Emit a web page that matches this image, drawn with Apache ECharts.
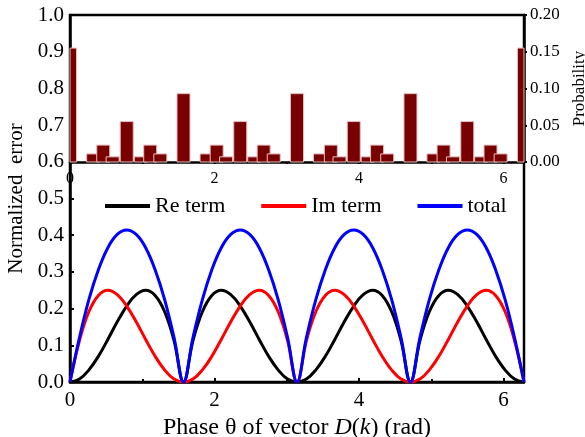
<!DOCTYPE html>
<html lang="en">
<head>
    <meta charset="UTF-8">
    <title>normalized error</title>
    <script src="https://cdn.jsdelivr.net/npm/echarts@6/dist/echarts.min.js"></script>
    <style>
        body { margin: 0; background: #fff; }
        #chart { width: 585px; height: 437px; }
    </style>
</head>
<body>
<div id="chart"></div>
<script>
    // phase samples (rad)
    let theta = [0, 0.131, 0.262, 0.393, 0.524, 0.654, 0.785, 0.916, 1.047, 1.178, 1.309, 1.440, 1.571,
        1.702, 1.833, 1.963, 2.094, 2.225, 2.356, 2.487, 2.618, 2.749, 2.880, 3.011, 3.142,
        3.272, 3.403, 3.534, 3.665, 3.796, 3.927, 4.058, 4.189, 4.320, 4.451, 4.581, 4.712,
        4.843, 4.974, 5.105, 5.236, 5.367, 5.498, 5.629, 5.760, 5.890, 6.021, 6.152, 6.283];

    let reTerm = [0, 0.008, 0.033, 0.070, 0.116, 0.164, 0.207, 0.238, 0.250, 0.236, 0.192, 0.113, 0,
        0.113, 0.192, 0.236, 0.250, 0.238, 0.207, 0.164, 0.116, 0.070, 0.033, 0.008, 0,
        0.008, 0.033, 0.070, 0.116, 0.164, 0.207, 0.238, 0.250, 0.236, 0.192, 0.113, 0,
        0.113, 0.192, 0.236, 0.250, 0.238, 0.207, 0.164, 0.116, 0.070, 0.033, 0.008, 0];

    let imTerm = [0, 0.113, 0.192, 0.236, 0.250, 0.238, 0.207, 0.164, 0.116, 0.070, 0.033, 0.008, 0,
        0.008, 0.033, 0.070, 0.116, 0.164, 0.207, 0.238, 0.250, 0.236, 0.192, 0.113, 0,
        0.113, 0.192, 0.236, 0.250, 0.238, 0.207, 0.164, 0.116, 0.070, 0.033, 0.008, 0,
        0.008, 0.033, 0.070, 0.116, 0.164, 0.207, 0.238, 0.250, 0.236, 0.192, 0.113, 0];

    let total = [0, 0.121, 0.225, 0.306, 0.366, 0.402, 0.414, 0.402, 0.366, 0.306, 0.225, 0.121, 0,
        0.121, 0.225, 0.306, 0.366, 0.402, 0.414, 0.402, 0.366, 0.306, 0.225, 0.121, 0,
        0.121, 0.225, 0.306, 0.366, 0.402, 0.414, 0.402, 0.366, 0.306, 0.225, 0.121, 0,
        0.121, 0.225, 0.306, 0.366, 0.402, 0.414, 0.402, 0.366, 0.306, 0.225, 0.121, 0];

    // inset histogram: phase positions and probability
    let barPhase = [0, 0.32, 0.46, 0.59, 0.785, 0.98, 1.11, 1.25, 1.571,
        1.89, 2.03, 2.16, 2.356, 2.55, 2.68, 2.82, 3.142,
        3.46, 3.61, 3.73, 3.927, 4.12, 4.25, 4.39, 4.712,
        5.03, 5.17, 5.30, 5.498, 5.69, 5.82, 5.96, 6.283];
    let barProb = [0.155, 0.011, 0.023, 0.007, 0.055, 0.007, 0.023, 0.011, 0.093,
        0.011, 0.023, 0.007, 0.055, 0.007, 0.023, 0.011, 0.093,
        0.011, 0.023, 0.007, 0.055, 0.007, 0.023, 0.011, 0.093,
        0.011, 0.023, 0.007, 0.055, 0.007, 0.023, 0.011, 0.155];

    let xMax = 6.2832;
    let font = 'Liberation Serif';

    function pairs(xs, ys) {
        return xs.map(function (x, i) { return [x, ys[i]]; });
    }

    function evenLabel(v) {
        return Math.abs(v % 2) < 1e-6 ? String(v) : '';
    }

    // histogram bar drawn through the inset's axes, clipped to the inset box
    function renderBar(params, api) {
        let base = api.coord([api.value(0), 0]);
        let top = api.coord([api.value(0), api.value(1)]);
        let w = 13;
        let rect = echarts.graphic.clipRectByRect({
            x: top[0] - w / 2, y: top[1], width: w, height: base[1] - top[1]
        }, {
            x: params.coordSys.x, y: params.coordSys.y,
            width: params.coordSys.width, height: params.coordSys.height
        });
        if (!rect) return;
        return {
            type: 'rect',
            shape: rect,
            style: { fill: '#780000', stroke: '#e8bcbc', lineWidth: 1 }
        };
    }

    let myChart = echarts.init(document.getElementById('chart'));
    let option = {
        animation: false,
        textStyle: { fontFamily: font },
        legend: {
            left: 100,
            top: 190,
            icon: 'rect',
            itemWidth: 45,
            itemHeight: 4,
            itemGap: 36,
            textStyle: { fontFamily: font, fontSize: 22, color: '#000' },
            data: ['Re term', 'Im term', 'total']
        },
        grid: [{
            left: 70, right: 61, top: 15, bottom: 55,
            containLabel: false, outerBoundsMode: 'none',
            show: true, borderColor: '#000', borderWidth: 2.5
        }, {
            left: 70, right: 61, top: 15, bottom: 275,
            containLabel: false, outerBoundsMode: 'none'
        }],
        xAxis: [{
            gridIndex: 0,
            type: 'value',
            min: 0, max: xMax, interval: 2,
            name: '{n|Phase θ of vector }{i|D}{n|(}{i|k}{n|) (rad)}',
            nameLocation: 'middle',
            nameGap: 31,
            nameTextStyle: {
                rich: {
                    n: { fontFamily: font, fontSize: 24, color: '#000' },
                    i: { fontFamily: font, fontSize: 24, color: '#000', fontStyle: 'italic' }
                }
            },
            axisLine: { lineStyle: { color: '#000', width: 2.5 } },
            axisTick: { inside: true, length: 4, lineStyle: { color: '#000', width: 2 } },
            minorTick: { show: true, splitNumber: 2, length: 3, lineStyle: { color: '#000', width: 2 } },
            axisLabel: { fontFamily: font, fontSize: 21, color: '#000', margin: 8, formatter: evenLabel },
            splitLine: { show: false }
        }, {
            gridIndex: 1,
            type: 'value',
            min: 0, max: xMax, interval: 2,
            axisLine: { lineStyle: { color: '#000', width: 2.5 } },
            axisTick: { length: 2, lineStyle: { color: '#000', width: 2 } },
            minorTick: { show: true, splitNumber: 2, length: 2, lineStyle: { color: '#000', width: 2 } },
            axisLabel: { fontFamily: font, fontSize: 16, color: '#000', margin: 9, formatter: evenLabel },
            splitLine: { show: false }
        }],
        yAxis: [{
            gridIndex: 0,
            type: 'value',
            min: 0, max: 1, interval: 0.1,
            name: 'Normalized  error',
            nameLocation: 'middle',
            nameGap: 41,
            nameTextStyle: { fontFamily: font, fontSize: 21, color: '#000' },
            axisLine: { lineStyle: { color: '#000', width: 2.5 } },
            axisTick: { inside: true, length: 4, lineStyle: { color: '#000', width: 2 } },
            axisLabel: { fontFamily: font, fontSize: 21, color: '#000', margin: 6,
                formatter: function (v) { return v.toFixed(1); } },
            splitLine: { show: false }
        }, {
            gridIndex: 1,
            type: 'value',
            min: 0, max: 0.2,
            show: false
        }, {
            gridIndex: 1,
            type: 'value',
            position: 'right',
            min: 0, max: 0.2, interval: 0.05,
            name: 'Probability',
            nameLocation: 'middle',
            nameRotate: 90,
            nameGap: 46,
            nameTextStyle: { fontFamily: font, fontSize: 17, color: '#000' },
            axisLine: { lineStyle: { color: '#000', width: 2.5 } },
            axisTick: { length: 3, lineStyle: { color: '#000', width: 2 } },
            axisLabel: { fontFamily: font, fontSize: 17, color: '#000', margin: 6,
                formatter: function (v) { return v.toFixed(2); } },
            splitLine: { show: false }
        }],
        series: [{
            name: 'Re term',
            type: 'line',
            xAxisIndex: 0, yAxisIndex: 0,
            data: pairs(theta, reTerm),
            showSymbol: false,
            smooth: 0.4,
            itemStyle: { color: '#000' },
            lineStyle: { color: '#000', width: 3 }
        }, {
            name: 'Im term',
            type: 'line',
            xAxisIndex: 0, yAxisIndex: 0,
            data: pairs(theta, imTerm),
            showSymbol: false,
            smooth: 0.4,
            itemStyle: { color: '#ff0000' },
            lineStyle: { color: '#ff0000', width: 3 }
        }, {
            name: 'total',
            type: 'line',
            xAxisIndex: 0, yAxisIndex: 0,
            data: pairs(theta, total),
            showSymbol: false,
            smooth: 0.4,
            itemStyle: { color: '#0000ff' },
            lineStyle: { color: '#0000ff', width: 3 }
        }, {
            name: 'Probability',
            type: 'custom',
            coordinateSystem: 'cartesian2d',
            xAxisIndex: 1, yAxisIndex: 2,
            data: pairs(barPhase, barProb),
            encode: { x: 0, y: 1 },
            renderItem: renderBar
        }]
    };
    myChart.setOption(option);
</script>
</body>
</html>
